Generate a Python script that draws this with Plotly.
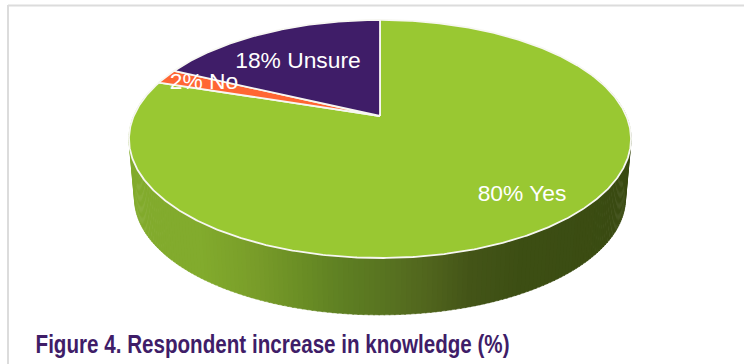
import numpy as np
import plotly.graph_objects as go

# Survey results, in drawing order clockwise from twelve o'clock
categories = ["Yes", "No", "Unsure"]
values = [80, 2, 18]
slice_colors = ["#99c832", "#ff6633", "#3f1d68"]
label_centers = [(522, 195), (204, 83), (298, 62)]
title_text = "Figure 4. Respondent increase in knowledge (%)"

# Perspective model of the disc: a unit circle projected around the hub
HUB_X, HUB_Y = 380, 116
HALF_W, HALF_H = 246.3, 114.6
TILT = 0.193
FLOOR_SCALE, FLOOR_Y = 0.978, 176.0

# Wall shading, sampled by horizontal position
shade_x = [130, 200, 250, 300, 340, 400, 430, 470, 520, 632]
shade_r = [130, 130, 122, 107, 95, 86, 80, 68, 61, 58]
shade_g = [171, 171, 158, 142, 128, 111, 100, 85, 79, 75]
shade_b = [45, 45, 42, 37, 35, 32, 29, 24, 20, 18]


def project(deg, scale=1.0, y0=HUB_Y):
    rad = np.radians(deg)
    u, v = np.sin(rad), -np.cos(rad)
    d = 1 - TILT * v
    return HUB_X + scale * HALF_W * u / d, y0 + scale * HALF_H * v / d


fig = go.Figure()

# Outer wall as narrow quads between the rim and the floor outline
step = 1.0
for a in np.arange(70, 290, step):
    arc = np.array([a, a + step + 0.3])
    xt, yt = project(arc)
    xb, yb = project(arc, FLOOR_SCALE, FLOOR_Y)
    mx = xt.mean()
    c = [np.interp(mx, shade_x, s) for s in (shade_r, shade_g, shade_b)]
    col = "rgb(%d,%d,%d)" % tuple(c)
    fig.add_trace(go.Scatter(
        x=np.r_[xt, xb[::-1]], y=np.r_[yt, yb[::-1]],
        mode="lines", fill="toself", fillcolor=col,
        line=dict(color=col, width=0.5), hoverinfo="skip",
    ))

# Top face slices
total = sum(values)
start = 0.0
for name, val, col in zip(categories, values, slice_colors):
    sweep = 360.0 * val / total
    arc = np.linspace(start, start + sweep, max(int(sweep * 2), 12))
    xs, ys = project(arc)
    fig.add_trace(go.Scatter(
        x=np.r_[HUB_X, xs, HUB_X], y=np.r_[HUB_Y, ys, HUB_Y],
        mode="lines", fill="toself", fillcolor=col,
        line=dict(color="#f7f7f2", width=1.8), name=name, hoverinfo="name",
    ))
    start += sweep

# Slice labels
for name, val, (lx, ly) in zip(categories, values, label_centers):
    fig.add_trace(go.Scatter(
        x=[lx], y=[ly], mode="text", text=[f"{val}% {name}"],
        textposition="middle center", hoverinfo="skip",
        textfont=dict(family="Liberation Sans, Arial", size=22.8, color="white"),
    ))

fig.update_layout(
    width=744, height=364, autosize=False,
    margin=dict(l=0, r=0, t=0, b=0),
    paper_bgcolor="white", plot_bgcolor="white", showlegend=False,
    xaxis=dict(range=[0, 744], visible=False, fixedrange=True),
    yaxis=dict(range=[364, 0], visible=False, fixedrange=True),
    # Panel frame along the top and left
    shapes=[
        dict(type="line", xref="paper", yref="paper", x0=8 / 744, x1=1, y0=1 - 5.5 / 364, y1=1 - 5.5 / 364,
             line=dict(color="#dcdcdc", width=2)),
        dict(type="line", xref="paper", yref="paper", x0=8 / 744, x1=8 / 744, y0=0, y1=1 - 5 / 364,
             line=dict(color="#dcdcdc", width=2)),
    ],
    annotations=[dict(
        text=title_text, xref="paper", yref="paper",
        x=272.5 / 744, y=1 - 344 / 364, xanchor="center", yanchor="middle", showarrow=False,
        font=dict(family="Liberation Sans, Arial", size=25, color="#3f1d68", weight=700),
    )],
)

# The caption is set condensed: squeeze its glyphs to the wanted run length
condense = """
var t = document.querySelector('.annotation-text');
if (t) { t.setAttribute('textLength', '474'); t.setAttribute('lengthAdjust', 'spacingAndGlyphs'); }
"""

fig.write_html("out.html", config={"displayModeBar": False}, post_script=condense)
